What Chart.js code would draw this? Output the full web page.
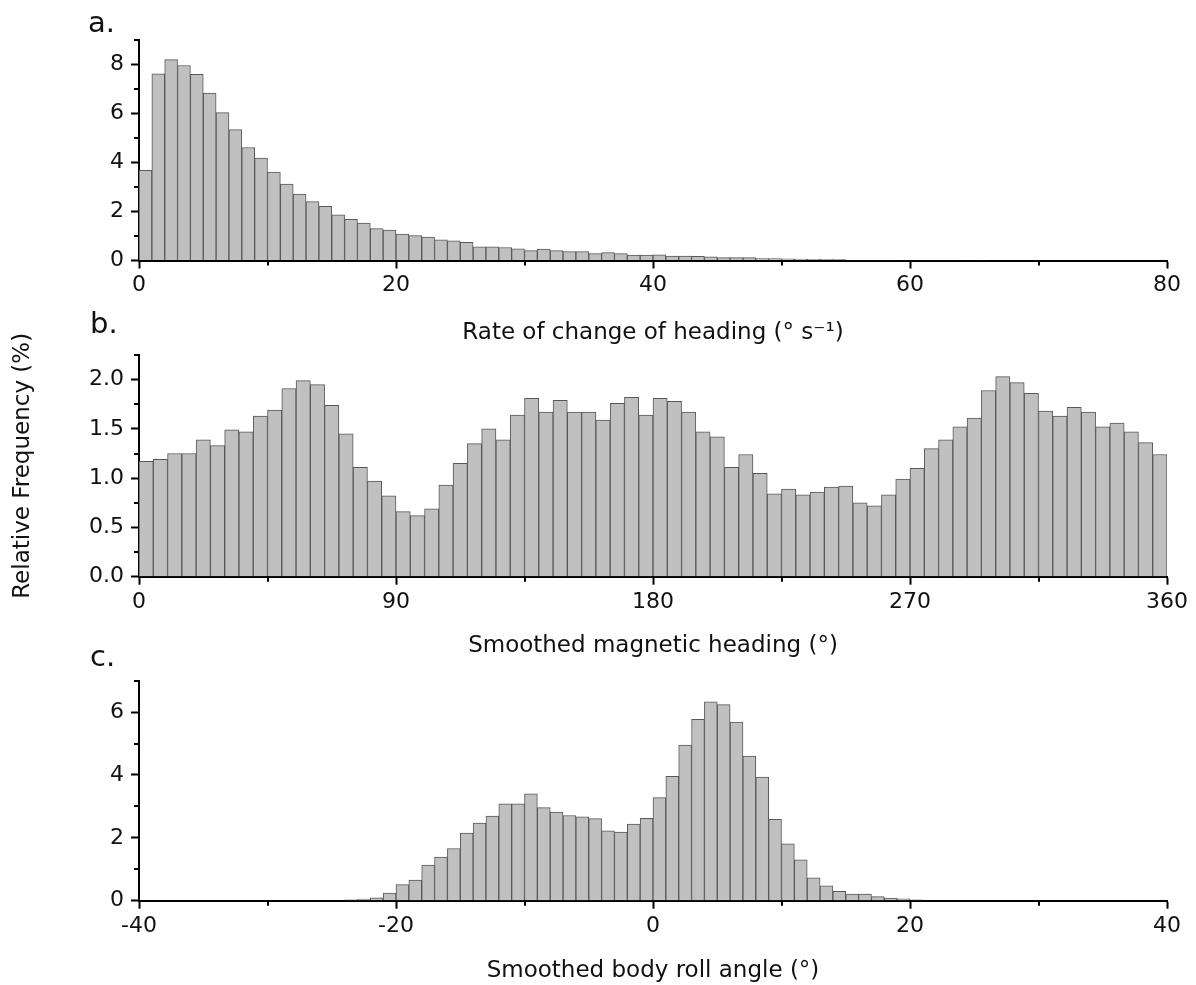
<!DOCTYPE html>
<html>
<head>
<meta charset="utf-8">
<title>Heading and roll histograms</title>
<script src="https://cdn.jsdelivr.net/npm/chart.js@4.4.0/dist/chart.umd.min.js"></script>
<style>
  body { margin: 0; background: #fff; }
  #wrap { position: relative; width: 1196px; height: 985px; overflow: hidden; }
  #wrap canvas { position: absolute; left: 0; }
  .tag { position: absolute; font: 29px "DejaVu Sans", sans-serif; line-height: 1; color: #111; }
</style>
</head>
<body>
<div id="wrap">
  <canvas id="rate" width="1196" height="347" style="top:0px"></canvas>
  <canvas id="heading" width="1196" height="330" style="top:330px"></canvas>
  <canvas id="roll" width="1196" height="335" style="top:650px"></canvas>
  <div class="tag" style="left:88px; top:8px">a.</div>
  <div class="tag" style="left:90px; top:309px">b.</div>
  <div class="tag" style="left:90px; top:642px">c.</div>
</div>
<script>
// relative frequency (%) per bin
const rateFreq = [3.67, 7.6, 8.18, 7.94, 7.58, 6.82, 6.02, 5.33, 4.6, 4.17,
  3.6, 3.11, 2.7, 2.4, 2.21, 1.86, 1.68, 1.52, 1.3, 1.24,
  1.08, 1.01, 0.95, 0.84, 0.8, 0.74, 0.56, 0.56, 0.53, 0.48,
  0.4, 0.46, 0.4, 0.36, 0.36, 0.28, 0.32, 0.28, 0.22, 0.22,
  0.23, 0.18, 0.18, 0.17, 0.15, 0.12, 0.12, 0.12, 0.08, 0.08,
  0.07, 0.06, 0.05, 0.05, 0.04, 0.02, 0.02, 0.02, 0.02, 0,
  0.02, 0.02, 0.02, 0.02, 0, 0.02];
const rateBinStart = 0, rateBinWidth = 1;

const headingFreq = [1.17, 1.19, 1.25, 1.25, 1.39, 1.33, 1.49, 1.47, 1.63, 1.69,
  1.91, 1.99, 1.95, 1.74, 1.45, 1.11, 0.97, 0.82, 0.66, 0.62,
  0.69, 0.93, 1.15, 1.35, 1.5, 1.39, 1.64, 1.81, 1.67, 1.79,
  1.67, 1.67, 1.59, 1.76, 1.82, 1.64, 1.81, 1.78, 1.67, 1.47,
  1.42, 1.11, 1.24, 1.05, 0.84, 0.89, 0.83, 0.86, 0.91, 0.92,
  0.75, 0.72, 0.83, 0.99, 1.1, 1.3, 1.39, 1.52, 1.61, 1.89,
  2.03, 1.97, 1.86, 1.68, 1.63, 1.72, 1.67, 1.52, 1.56, 1.47,
  1.36, 1.24];
const headingBinStart = 0, headingBinWidth = 5;

const rollFreq = [0.03, 0.05, 0.09, 0.24, 0.51, 0.66, 1.13, 1.39, 1.66, 2.15,
  2.47, 2.69, 3.08, 3.08, 3.4, 2.96, 2.82, 2.71, 2.67, 2.61,
  2.22, 2.18, 2.44, 2.62, 3.28, 3.96, 4.95, 5.77, 6.33, 6.24,
  5.68, 4.6, 3.93, 2.59, 1.81, 1.3, 0.73, 0.47, 0.3, 0.21,
  0.21, 0.13, 0.08, 0.06, 0.03];
const rollBinStart = -24, rollBinWidth = 1;

const textColor = '#111';
const family = '"DejaVu Sans", sans-serif';

function isStep(v, step) {
    return Math.abs(v / step - Math.round(v / step)) < 1e-6;
}

// short unlabelled ticks between the labelled ones
const minorTicks = {
    id: 'minorTicks',
    afterDraw(chart, args, opts) {
        const { ctx, chartArea, scales } = chart;
        ctx.save();
        ctx.strokeStyle = '#000';
        ctx.lineWidth = 2;
        ctx.beginPath();
        scales.x.ticks.forEach(t => {
            if (isStep(t.value, opts.xMajor)) return;
            const px = Math.round(scales.x.getPixelForValue(t.value));
            ctx.moveTo(px, chartArea.bottom);
            ctx.lineTo(px, chartArea.bottom + 5);
        });
        scales.y.ticks.forEach(t => {
            if (isStep(t.value, opts.yMajor)) return;
            const py = Math.round(scales.y.getPixelForValue(t.value));
            ctx.moveTo(chartArea.left, py);
            ctx.lineTo(chartArea.left - 5, py);
        });
        ctx.stroke();
        ctx.restore();
    }
};

function histogram(id, freq, binStart, binWidth, o) {
    const points = freq.map((v, i) => ({ x: binStart + (i + 0.5) * binWidth, y: v }));
    return new Chart(document.getElementById(id), {
        type: 'bar',
        data: {
            datasets: [{
                data: points,
                backgroundColor: '#c0c0c0',
                borderColor: '#585858',
                borderWidth: 1,
                barPercentage: 1,
                categoryPercentage: 1
            }]
        },
        options: {
            responsive: false,
            animation: false,
            layout: { padding: { top: o.top, right: 29, bottom: 0, left: 0 } },
            plugins: {
                legend: { display: false },
                tooltip: { enabled: false },
                minorTicks: { xMajor: o.xMajor, yMajor: o.yMajor }
            },
            scales: {
                x: {
                    type: 'linear',
                    min: o.xMin,
                    max: o.xMax,
                    offset: false,
                    grid: {
                        offset: false,
                        drawOnChartArea: false,
                        tickLength: 8,
                        tickWidth: 2,
                        tickColor: c => isStep(c.tick.value, o.xMajor) ? '#000' : 'rgba(0,0,0,0)'
                    },
                    border: { color: '#000', width: 2 },
                    ticks: {
                        stepSize: o.xStep,
                        autoSkip: false,
                        maxRotation: 0,
                        padding: 4,
                        color: textColor,
                        font: { family: family, size: 22 },
                        callback: v => isStep(v, o.xMajor) ? String(v) : ''
                    },
                    title: {
                        display: true,
                        text: o.xTitle,
                        color: textColor,
                        font: { family: family, size: 23 },
                        padding: { top: 0, bottom: 0 }
                    },
                    afterFit: s => { s.height = o.xHeight; }
                },
                y: {
                    min: 0,
                    max: o.yMax,
                    grid: {
                        drawOnChartArea: false,
                        tickLength: 8,
                        tickWidth: 2,
                        tickColor: c => isStep(c.tick.value, o.yMajor) ? '#000' : 'rgba(0,0,0,0)'
                    },
                    border: { color: '#000', width: 2 },
                    ticks: {
                        stepSize: o.yStep,
                        autoSkip: false,
                        padding: 7,
                        color: textColor,
                        font: { family: family, size: 22 },
                        callback: v => isStep(v, o.yMajor) ? v.toFixed(o.yDigits) : ''
                    },
                    title: {
                        display: !!o.yTitle,
                        text: o.yTitle || '',
                        color: textColor,
                        font: { family: family, size: 23 },
                        padding: { top: 9, bottom: 0 }
                    },
                    afterFit: s => { s.width = 139; }
                }
            }
        },
        plugins: [minorTicks]
    });
}

histogram('rate', rateFreq, rateBinStart, rateBinWidth, {
    top: 39.5, xHeight: 86.5,
    xMin: 0, xMax: 80, xStep: 10, xMajor: 20,
    yMax: 9, yStep: 1, yMajor: 2, yDigits: 0,
    xTitle: 'Rate of change of heading (\u00B0 s\u207B\u00B9)'
});

histogram('heading', headingFreq, headingBinStart, headingBinWidth, {
    top: 25, xHeight: 83.3,
    xMin: 0, xMax: 360, xStep: 45, xMajor: 90,
    yMax: 2.25, yStep: 0.25, yMajor: 0.5, yDigits: 1,
    xTitle: 'Smoothed magnetic heading (\u00B0)',
    yTitle: 'Relative Frequency (%)'
});

histogram('roll', rollFreq, rollBinStart, rollBinWidth, {
    top: 30.7, xHeight: 84.3,
    xMin: -40, xMax: 40, xStep: 10, xMajor: 20,
    yMax: 7, yStep: 1, yMajor: 2, yDigits: 0,
    xTitle: 'Smoothed body roll angle (\u00B0)'
});
</script>
</body>
</html>
